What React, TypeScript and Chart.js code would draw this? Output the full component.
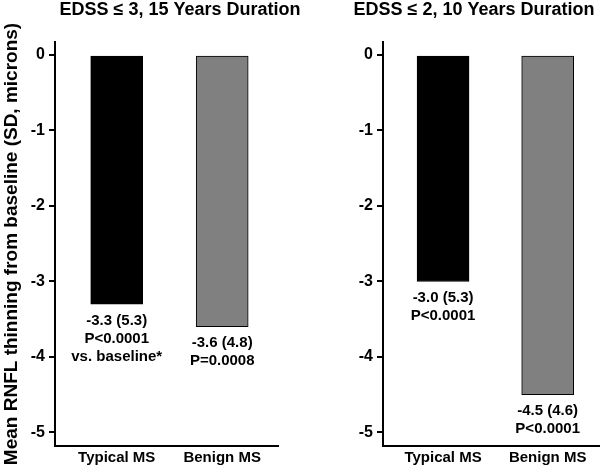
import React, { useEffect, useRef } from "react";
import { Chart, registerables } from "chart.js";

Chart.register(...registerables);

// ---- Data ----
const categories = ["Typical MS", "Benign MS"];
const categoryPositions = [1, 2];
const panelTitles = ["EDSS \u2264 3, 15 Years Duration", "EDSS \u2264 2, 10 Years Duration"];
const yAxisTitle = "Mean RNFL thinning from baseline (SD, microns)";
const leftValues = [-3.3, -3.6];
const rightValues = [-3.0, -4.5];
const leftNotes = [
  ["-3.3 (5.3)", "P<0.0001", "vs. baseline*"],
  ["-3.6 (4.8)", "P=0.0008"],
];
const rightNotes = [
  ["-3.0 (5.3)", "P<0.0001"],
  ["-4.5 (4.6)", "P<0.0001"],
];
const yTickValues = [0, -1, -2, -3, -4, -5];
const barColors = ["#000000", "#808080"];

const FONT = "'Liberation Sans', Arial, Helvetica, sans-serif";

type PanelProps = {
  values: number[];
  notes: string[][];
  title: string;
  showYTitle: boolean;
  xMin: number;
  xMax: number;
  yAxisWidth: number;
  padRight: number;
  titleX: number;
  left: number;
};

function Panel(p: PanelProps) {
  const ref = useRef<HTMLCanvasElement | null>(null);
  useEffect(() => {
    if (!ref.current) return;
    const notesPlugin = {
      id: "notesPlugin",
      afterDatasetsDraw(chart: any) {
        const ctx = chart.ctx;
        const meta = chart.getDatasetMeta(0);
        ctx.save();
        ctx.fillStyle = "#000";
        ctx.font = `bold 15px ${FONT}`;
        ctx.textAlign = "center";
        ctx.textBaseline = "top";
        meta.data.forEach((el: any, i: number) => {
          const lines = p.notes[i] || [];
          lines.forEach((line, j) => {
            ctx.fillText(line, el.x, el.y + 9 + j * 18);
          });
        });
        ctx.restore();
      },
    };
    const titlePlugin = {
      id: "panelTitle",
      afterDraw(chart: any) {
        const ctx = chart.ctx;
        ctx.save();
        ctx.fillStyle = "#000";
        ctx.font = `bold 18px ${FONT}`;
        ctx.textAlign = "center";
        ctx.textBaseline = "alphabetic";
        ctx.fillText(p.title, p.titleX, 15);
        ctx.restore();
      },
    };
    const chart = new Chart(ref.current, {
      type: "bar",
      data: {
        datasets: [
          {
            data: p.values.map((v, i) => ({ x: categoryPositions[i], y: v })),
            backgroundColor: barColors,
            borderColor: "#000",
            borderWidth: 1,
            borderSkipped: false,
            barThickness: 52,
          } as any,
        ],
      },
      options: {
        animation: false,
        responsive: false,
        maintainAspectRatio: false,
        layout: { padding: { top: 42, right: p.padRight, left: 0, bottom: 0 } },
        plugins: {
          legend: { display: false },
          tooltip: { enabled: false },
          title: { display: false },
        },
        scales: {
          x: {
            type: "linear",
            min: p.xMin,
            max: p.xMax,
            offset: false,
            grid: { display: true, drawOnChartArea: false, drawTicks: false, offset: false },
            border: { display: true, color: "#000", width: 2 },
            afterBuildTicks: (s: any) => {
              s.ticks = categoryPositions.map((v) => ({ value: v }));
            },
            afterFit: (s: any) => {
              s.height = 25;
            },
            ticks: {
              autoSkip: false,
              maxRotation: 0,
              padding: 3,
              color: "#000",
              font: { family: FONT, size: 15, weight: "bold" },
              callback: (v: any) => {
                const idx = categoryPositions.indexOf(Number(v));
                return idx >= 0 ? categories[idx] : "";
              },
            },
          },
          y: {
            type: "linear",
            min: -5.179,
            max: 0.172,
            afterBuildTicks: (s: any) => {
              s.ticks = yTickValues.map((v) => ({ value: v }));
            },
            afterFit: (s: any) => {
              s.width = p.yAxisWidth;
            },
            grid: {
              display: true,
              drawOnChartArea: false,
              drawTicks: true,
              tickLength: 6,
              color: "#000",
              lineWidth: 2,
            },
            border: { display: true, color: "#000", width: 2 },
            ticks: {
              padding: 4,
              color: "#000",
              font: { family: FONT, size: 16, weight: "bold" },
              callback: (v: any) => String(v),
            },
            title: {
              display: p.showYTitle,
              text: yAxisTitle,
              color: "#000",
              padding: 0,
              font: { family: FONT, size: 19, weight: "bold" },
            },
          },
        },
      } as any,
      plugins: [notesPlugin, titlePlugin],
    });
    return () => chart.destroy();
  }, []);
  return (
    <canvas
      ref={ref}
      width={300}
      height={471}
      style={{ position: "absolute", left: p.left, top: 0, width: 300, height: 471 }}
    />
  );
}

export default function App() {
  return (
    <div
      style={{
        position: "fixed",
        left: 0,
        top: 0,
        width: 600,
        height: 471,
        background: "#fff",
      }}
    >
      <Panel
        values={leftValues}
        notes={leftNotes}
        title={panelTitles[0]}
        showYTitle={true}
        xMin={0.415}
        xMax={2.529}
        yAxisWidth={55}
        padRight={22}
        titleX={180}
        left={0}
      />
      <Panel
        values={rightValues}
        notes={rightNotes}
        title={panelTitles[1]}
        showYTitle={false}
        xMin={0.426}
        xMax={2.5}
        yAxisWidth={83}
        padRight={0}
        titleX={174}
        left={300}
      />
    </div>
  );
}
